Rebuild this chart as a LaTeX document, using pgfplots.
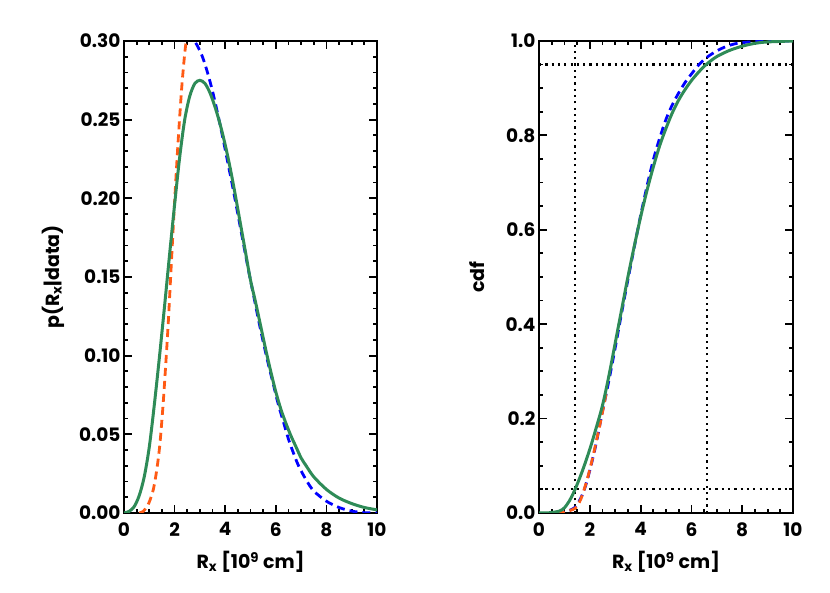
\documentclass[border=0pt]{standalone}
\usepackage{fontspec}
\setmainfont{Poppins}
\usepackage{pgfplots}
\pgfplotsset{compat=1.18}
\definecolor{pgreen}{RGB}{46,139,87}
\definecolor{porange}{RGB}{255,90,20}
\definecolor{pblue}{RGB}{0,0,255}

\pgfplotsset{idl/.style={
  scale only axis, height=472pt,
  xmin=0, xmax=10, xtick={0,2,...,10}, minor x tick num=3,
  tick align=inside, tick pos=both,
  major tick length=8pt, minor tick length=4pt,
  axis line style={line width=2.6pt}, every tick/.style={black, line width=1.8pt},
  /pgf/number format/assume math mode=true,
  ticklabel style={font=\bfseries\fontsize{18.5}{18.5}\selectfont},
  label style={font=\bfseries\fontsize{19}{19}\selectfont},
  xlabel={R\textsubscript{x} [10\textsuperscript{9} cm]},
  xticklabel style={yshift=-6pt},
  xlabel style={yshift=-8pt},
  clip=true,
}}
\tikzset{dsh/.style={line width=2.8pt, dash pattern=on 8pt off 5pt},
         dots/.style={black, line width=2.2pt, dash pattern=on 2.2pt off 4.1pt}}

\begin{document}
\begin{tikzpicture}
\path[use as bounding box] (-124pt,-80pt) rectangle (706pt,513pt);
% left: posterior density
\begin{axis}[idl, at={(0pt,0pt)}, anchor=south west, width=253pt,
  ymin=0, ymax=0.30, ytick={0,0.05,...,0.30}, minor y tick num=4,
  yticklabel style={/pgf/number format/.cd, fixed, fixed zerofill, precision=2},
  ylabel={p(R\textsubscript{x}|data)},
  ylabel style={yshift=8pt},
]
\addplot[pblue, dsh, smooth] coordinates {
  (2.5,0.305) (2.7,0.302) (2.9,0.297) (3.1,0.290) (3.3,0.280) (3.5,0.268)
  (3.7,0.254) (3.9,0.239) (4.1,0.223) (4.3,0.207) (4.5,0.190) (4.7,0.173)
  (4.9,0.156) (5.1,0.140) (5.3,0.124) (5.5,0.109) (5.7,0.095) (5.9,0.082)
  (6.1,0.069) (6.3,0.058) (6.5,0.047) (6.7,0.038) (6.9,0.030) (7.2,0.021)
  (7.5,0.014) (8.0,0.0075) (8.5,0.0035) (9.0,0.0012) (9.5,0.0002) (10,0)
};
\addplot[porange, dsh, smooth] coordinates {
  (0.6,0) (0.76,0.001) (0.9,0.004) (1.0,0.007) (1.16,0.015) (1.3,0.028)
  (1.42,0.044) (1.55,0.070) (1.66,0.097) (1.75,0.121) (1.85,0.152)
  (1.95,0.183) (2.05,0.212) (2.15,0.239) (2.28,0.270) (2.4,0.292)
  (2.5,0.305) (2.6,0.315)
};
\addplot[pgreen, line width=3pt, smooth] coordinates {
  (0.0,0.000) (0.2,0.001) (0.4,0.004) (0.6,0.011) (0.8,0.023) (1.0,0.042)
  (1.2,0.069) (1.4,0.099) (1.6,0.131) (1.8,0.164) (2.0,0.196) (2.2,0.226)
  (2.4,0.250) (2.6,0.265) (2.8,0.273) (3.0,0.275) (3.2,0.273) (3.4,0.267)
  (3.6,0.258) (3.8,0.247) (4.0,0.234) (4.2,0.219) (4.4,0.202) (4.6,0.184)
  (4.8,0.166) (5.0,0.148) (5.2,0.134) (5.4,0.119) (5.6,0.104) (5.8,0.090)
  (6.0,0.077) (6.2,0.066) (6.4,0.057) (6.6,0.049) (6.8,0.042) (7.0,0.035)
  (7.2,0.030) (7.5,0.023) (8.0,0.015) (8.5,0.0095) (9.0,0.006) (9.5,0.0035)
  (10.0,0.002)
};
\end{axis}
% right: cumulative distribution
\begin{axis}[idl, at={(415pt,0pt)}, anchor=south west, width=254pt,
  ymin=0, ymax=1.0, ytick={0,0.2,...,1.0}, minor y tick num=3,
  yticklabel style={/pgf/number format/.cd, fixed, fixed zerofill, precision=1},
  ylabel={cdf},
  ylabel style={yshift=14pt},
]
\addplot[dots] coordinates {(0,0.95) (10,0.95)};
\addplot[dots] coordinates {(0,0.05) (10,0.05)};
\addplot[dots] coordinates {(1.42,0) (1.42,1)};
\addplot[dots] coordinates {(6.6,0) (6.6,1)};
\addplot[pblue, dsh, smooth] coordinates {
  (0.7,0) (1.0,0.002) (1.42,0.012) (1.7,0.038) (1.9,0.07) (2.2,0.135)
  (2.5,0.215) (2.75,0.280) (3.0,0.350) (3.25,0.423) (3.5,0.494) (3.75,0.563)
  (4.0,0.630) (4.25,0.692) (4.5,0.748) (4.75,0.794) (5.0,0.834) (5.25,0.865)
  (5.5,0.890) (5.75,0.912) (6.0,0.930) (6.3,0.950) (6.6,0.965) (7.0,0.979)
  (7.4,0.989) (7.8,0.995) (8.3,0.998) (9.0,1.0) (10,1.0)
};
\addplot[porange, dsh, smooth] coordinates {
  (0.7,0) (1.0,0.002) (1.42,0.01) (1.65,0.03) (1.88,0.068) (2.05,0.103)
  (2.2,0.138) (2.37,0.18) (2.53,0.222) (2.65,0.255)
};
\addplot[pgreen, line width=3pt, smooth] coordinates {
  (0,0) (0.4,0.0005) (0.8,0.004) (1.0,0.011) (1.2,0.026) (1.42,0.05)
  (1.7,0.088) (2.0,0.135) (2.25,0.180) (2.5,0.228) (2.75,0.290) (3.0,0.360)
  (3.25,0.430) (3.5,0.500) (3.75,0.565) (4.0,0.627) (4.25,0.683) (4.5,0.733)
  (4.75,0.778) (5.0,0.815) (5.25,0.848) (5.5,0.875) (5.75,0.897) (6.0,0.916)
  (6.3,0.935) (6.6,0.951) (7.0,0.967) (7.5,0.980) (8.0,0.989) (8.5,0.995)
  (9.0,0.998) (10,1.0)
};
\end{axis}
\end{tikzpicture}
\end{document}
